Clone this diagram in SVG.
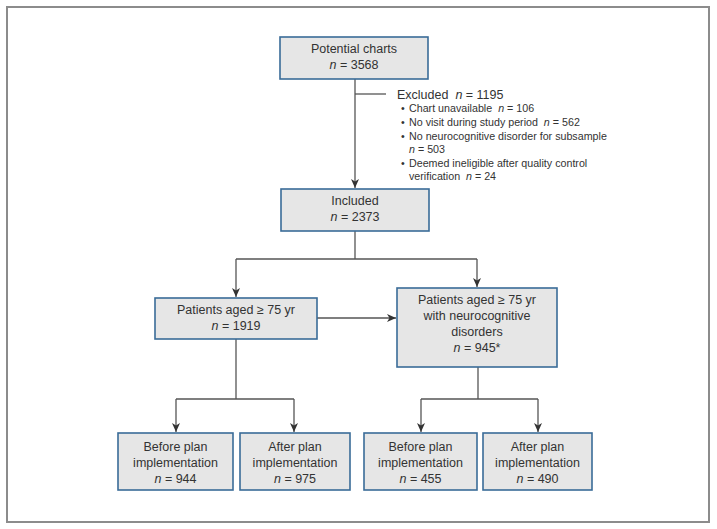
<svg xmlns="http://www.w3.org/2000/svg" width="717" height="529" viewBox="0 0 717 529">
<defs>
<style>
.box{fill:#e6e6e6;stroke:#3a6c98;stroke-width:1.6}
.t{font-family:"Liberation Sans",Arial,sans-serif;font-size:12.5px;fill:#333;text-anchor:middle}
.s{font-family:"Liberation Sans",Arial,sans-serif;font-size:10.7px;fill:#333;white-space:pre}
.ex{font-family:"Liberation Sans",Arial,sans-serif;font-size:12.5px;fill:#333;white-space:pre}
.ln{fill:none;stroke:#555;stroke-width:1.3}
.i{font-style:italic}
</style>
<marker id="ah" markerWidth="10" markerHeight="10" refX="9" refY="5" orient="auto" markerUnits="userSpaceOnUse">
<path d="M0,1 L9,5 L0,9 L2.5,5 Z" fill="#333"/>
</marker>
</defs>
<rect x="7" y="7" width="702" height="515" fill="#fff" stroke="#8c8c8c" stroke-width="2"/>
<g id="connectors">
<path class="ln" d="M355,79 V188" marker-end="url(#ah)"/>
<path class="ln" d="M355,94 H386"/>
<path class="ln" d="M355,231 V259"/>
<path class="ln" d="M236,259 H477"/>
<path class="ln" d="M236,259 V297" marker-end="url(#ah)"/>
<path class="ln" d="M477,259 V287" marker-end="url(#ah)"/>
<path class="ln" d="M317,318 H396" marker-end="url(#ah)"/>
<path class="ln" d="M236,339 V399"/>
<path class="ln" d="M176,399 H294"/>
<path class="ln" d="M176,399 V432" marker-end="url(#ah)"/>
<path class="ln" d="M294,399 V432" marker-end="url(#ah)"/>
<path class="ln" d="M478,367 V399"/>
<path class="ln" d="M421,399 H538"/>
<path class="ln" d="M421,399 V432" marker-end="url(#ah)"/>
<path class="ln" d="M538,399 V432" marker-end="url(#ah)"/>
</g>
<g id="potential">
<rect class="box" x="280" y="37" width="148" height="42"/>
<text class="t" x="354" y="53">Potential charts</text>
<text class="t" x="354" y="69"><tspan class="i">n</tspan> = 3568</text>
</g>
<g id="excluded" xml:space="preserve">
<text class="ex" x="397" y="99">Excluded  <tspan class="i">n</tspan> = 1195</text>
<text class="s" x="401" y="112">•</text><text class="s" x="409" y="112">Chart unavailable  <tspan class="i">n</tspan> = 106</text>
<text class="s" x="401" y="126">•</text><text class="s" x="409" y="126">No visit during study period  <tspan class="i">n</tspan> = 562</text>
<text class="s" x="401" y="140">•</text><text class="s" x="409" y="140">No neurocognitive disorder for subsample</text>
<text class="s" x="409" y="153"><tspan class="i">n</tspan> = 503</text>
<text class="s" x="401" y="167">•</text><text class="s" x="409" y="167">Deemed ineligible after quality control</text>
<text class="s" x="409" y="180">verification  <tspan class="i">n</tspan> = 24</text>
</g>
<g id="included">
<rect class="box" x="281" y="189" width="148" height="42"/>
<text class="t" x="355" y="205">Included</text>
<text class="t" x="355" y="221"><tspan class="i">n</tspan> = 2373</text>
</g>
<g id="aged">
<rect class="box" x="155" y="298" width="162" height="41"/>
<text class="t" x="236" y="314">Patients aged ≥ 75 yr</text>
<text class="t" x="236" y="330"><tspan class="i">n</tspan> = 1919</text>
</g>
<g id="aged-nc">
<rect class="box" x="397" y="288" width="160" height="79"/>
<text class="t" x="477" y="304">Patients aged ≥ 75 yr</text>
<text class="t" x="477" y="320">with neurocognitive</text>
<text class="t" x="477" y="336">disorders</text>
<text class="t" x="477" y="352"><tspan class="i">n</tspan> = 945*</text>
</g>
<g id="before1">
<rect class="box" x="118" y="433" width="115" height="57"/>
<text class="t" x="175.5" y="451">Before plan</text>
<text class="t" x="175.5" y="467">implementation</text>
<text class="t" x="175.5" y="483"><tspan class="i">n</tspan> = 944</text>
</g>
<g id="after1">
<rect class="box" x="240" y="433" width="110" height="57"/>
<text class="t" x="295" y="451">After plan</text>
<text class="t" x="295" y="467">implementation</text>
<text class="t" x="295" y="483"><tspan class="i">n</tspan> = 975</text>
</g>
<g id="before2">
<rect class="box" x="364" y="433" width="113" height="57"/>
<text class="t" x="420.5" y="451">Before plan</text>
<text class="t" x="420.5" y="467">implementation</text>
<text class="t" x="420.5" y="483"><tspan class="i">n</tspan> = 455</text>
</g>
<g id="after2">
<rect class="box" x="483" y="433" width="109" height="57"/>
<text class="t" x="537.5" y="451">After plan</text>
<text class="t" x="537.5" y="467">implementation</text>
<text class="t" x="537.5" y="483"><tspan class="i">n</tspan> = 490</text>
</g>
</svg>
